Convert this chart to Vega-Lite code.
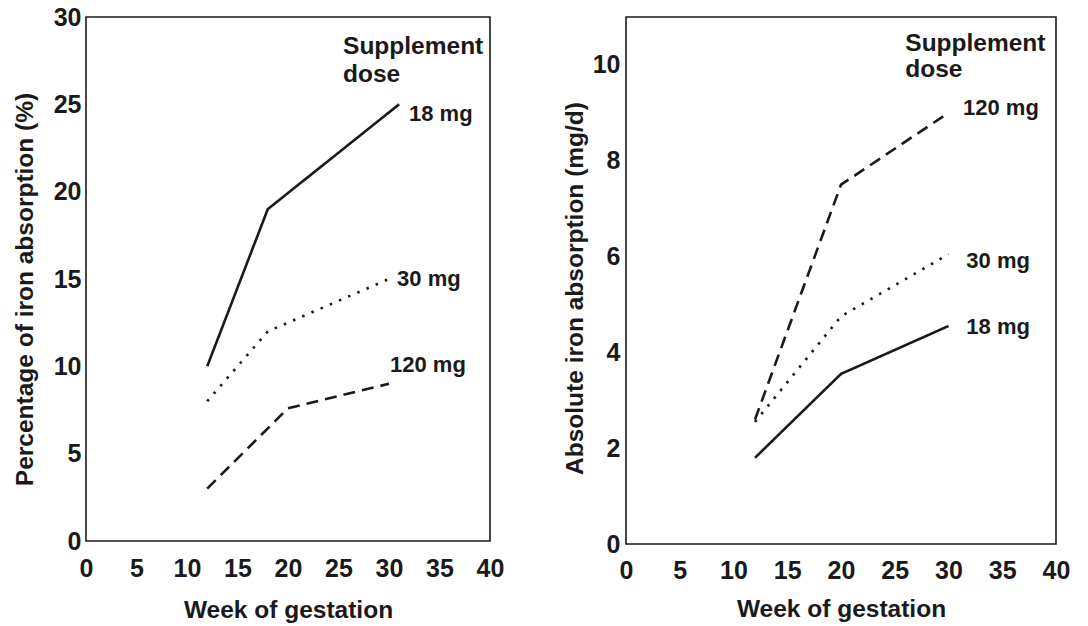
{
  "$schema": "https://vega.github.io/schema/vega-lite/v6.json",
  "padding": {"left": 11, "top": 4, "right": 0, "bottom": 0},
  "background": "white",
  "config": {
    "font": "Liberation Sans",
    "view": {"stroke": "#1a1a1a", "strokeWidth": 1.6},
    "axis": {
      "grid": false, "ticks": false, "domain": false,
      "labelFont": "Liberation Sans", "labelFontSize": 25, "labelFontWeight": "bold", "labelColor": "#1a1a1a",
      "titleFont": "Liberation Sans", "titleFontSize": 24.5, "titleFontWeight": "bold", "titleColor": "#1a1a1a",
      "labelOverlap": false, "labelFlush": false
    }
  },
  "datasets": {
    "pct": [
      {"dose": "18 mg", "week": 12, "value": 10},
      {"dose": "18 mg", "week": 18, "value": 19},
      {"dose": "18 mg", "week": 31, "value": 25},
      {"dose": "30 mg", "week": 12, "value": 8},
      {"dose": "30 mg", "week": 18, "value": 12},
      {"dose": "30 mg", "week": 30, "value": 15},
      {"dose": "120 mg", "week": 12, "value": 3},
      {"dose": "120 mg", "week": 20, "value": 7.6},
      {"dose": "120 mg", "week": 30, "value": 9}
    ],
    "pctHead": [
      {"label": "Supplement", "week": 25.45, "value": 28.28},
      {"label": "dose", "week": 25.45, "value": 26.68}
    ],
    "pctLab": [
      {"label": "18 mg", "week": 31.98, "value": 24.46},
      {"label": "30 mg", "week": 30.8, "value": 14.99},
      {"label": "120 mg", "week": 30.1, "value": 10.07}
    ],
    "abs": [
      {"dose": "18 mg", "week": 12, "value": 1.8},
      {"dose": "18 mg", "week": 20, "value": 3.55},
      {"dose": "18 mg", "week": 30, "value": 4.55},
      {"dose": "30 mg", "week": 12, "value": 2.55},
      {"dose": "30 mg", "week": 20, "value": 4.75},
      {"dose": "30 mg", "week": 30, "value": 6.05},
      {"dose": "120 mg", "week": 12, "value": 2.6},
      {"dose": "120 mg", "week": 20, "value": 7.5},
      {"dose": "120 mg", "week": 30, "value": 9.0}
    ],
    "absHead": [
      {"label": "Supplement", "week": 25.98, "value": 10.44},
      {"label": "dose", "week": 25.98, "value": 9.9}
    ],
    "absLab": [
      {"label": "120 mg", "week": 31.35, "value": 9.11},
      {"label": "30 mg", "week": 31.66, "value": 5.9},
      {"label": "18 mg", "week": 31.66, "value": 4.53}
    ]
  },
  "bounds": "flush",
  "spacing": 136,
  "hconcat": [
    {
      "width": 404,
      "height": 524,
      "encoding": {
        "x": {"field": "week", "type": "quantitative", "scale": {"domain": [0, 40], "nice": false},
              "axis": {"values": [0, 5, 10, 15, 20, 25, 30, 35, 40], "title": "Week of gestation", "labelPadding": 15, "titlePadding": 17}},
        "y": {"field": "value", "type": "quantitative", "scale": {"domain": [0, 30], "nice": false},
              "axis": {"values": [0, 5, 10, 15, 20, 25, 30], "title": "Percentage of iron absorption (%)", "labelPadding": 5, "titlePadding": 16, "titleY": 272}}
      },
      "layer": [
        {
          "data": {"name": "pct"},
          "mark": {"type": "line", "color": "#1a1a1a", "strokeWidth": 2.6, "strokeCap": "butt"},
          "encoding": {
            "strokeDash": {"field": "dose", "type": "nominal",
              "scale": {"domain": ["18 mg", "30 mg", "120 mg"], "range": [[1, 0], [2.5, 7.5], [12, 7]]},
              "legend": null}
          }
        },
        {
          "data": {"name": "pctHead"},
          "mark": {"type": "text", "align": "left", "baseline": "middle", "fontSize": 24.5, "fontWeight": "bold", "color": "#1a1a1a"},
          "encoding": {"text": {"field": "label"}}
        },
        {
          "data": {"name": "pctLab"},
          "mark": {"type": "text", "align": "left", "baseline": "middle", "fontSize": 22, "fontWeight": "bold", "color": "#1a1a1a"},
          "encoding": {"text": {"field": "label"}}
        }
      ]
    },
    {
      "width": 430,
      "height": 527,
      "encoding": {
        "x": {"field": "week", "type": "quantitative", "scale": {"domain": [0, 40], "nice": false},
              "axis": {"values": [0, 5, 10, 15, 20, 25, 30, 35, 40], "title": "Week of gestation", "labelPadding": 14, "titlePadding": 14}},
        "y": {"field": "value", "type": "quantitative", "scale": {"domain": [0, 11], "nice": false},
              "axis": {"values": [0, 2, 4, 6, 8, 10], "title": "Absolute iron absorption (mg/d)", "labelPadding": 6, "titlePadding": 5, "titleY": 271}}
      },
      "layer": [
        {
          "data": {"name": "abs"},
          "mark": {"type": "line", "color": "#1a1a1a", "strokeWidth": 2.6, "strokeCap": "butt"},
          "encoding": {
            "strokeDash": {"field": "dose", "type": "nominal",
              "scale": {"domain": ["18 mg", "30 mg", "120 mg"], "range": [[1, 0], [2.5, 7.5], [12, 7]]},
              "legend": null}
          }
        },
        {
          "data": {"name": "absHead"},
          "mark": {"type": "text", "align": "left", "baseline": "middle", "fontSize": 24.5, "fontWeight": "bold", "color": "#1a1a1a"},
          "encoding": {"text": {"field": "label"}}
        },
        {
          "data": {"name": "absLab"},
          "mark": {"type": "text", "align": "left", "baseline": "middle", "fontSize": 22, "fontWeight": "bold", "color": "#1a1a1a"},
          "encoding": {"text": {"field": "label"}}
        }
      ]
    }
  ]
}
